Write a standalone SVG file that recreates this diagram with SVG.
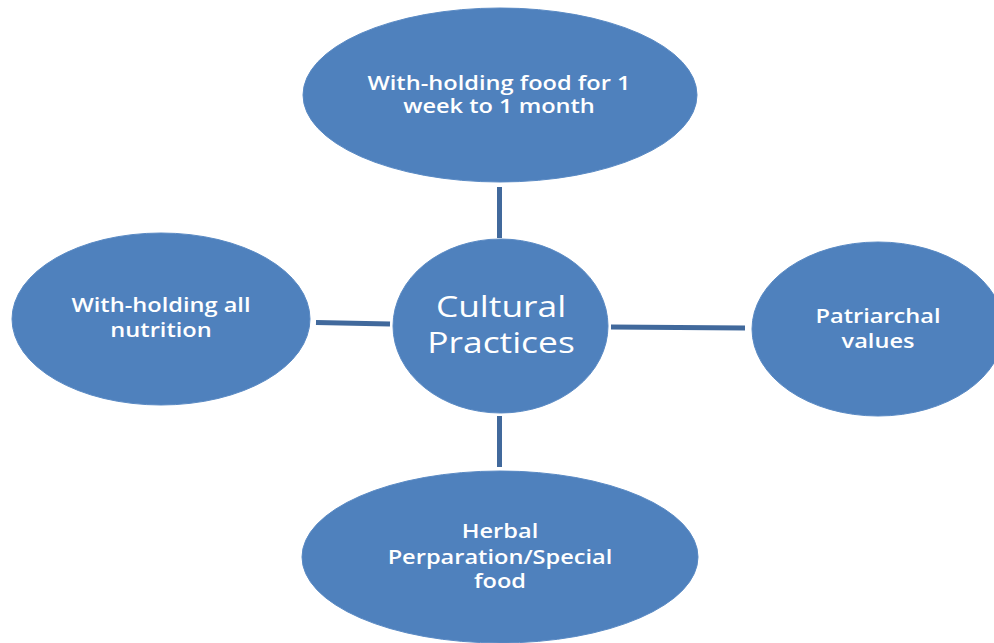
<svg xmlns="http://www.w3.org/2000/svg" width="994" height="643" viewBox="0 0 994 643">
<style>
.node{fill:#4F81BD;stroke:#5A8AC4;stroke-width:1}
.lbl{fill:#FFFFFF;font-family:"Open Sans","Liberation Sans",sans-serif;text-anchor:middle;font-size:20px;font-weight:600}
.big{font-size:29px;font-weight:400}
.conn line{stroke:#41699C;stroke-width:5}
</style>
<rect width="994" height="643" fill="#FFFFFF"/>
<g id="connectors" class="conn">
<line x1="499.5" y1="187" x2="499.5" y2="238"/>
<line x1="499.5" y1="416" x2="499.5" y2="467"/>
<line x1="316" y1="322.5" x2="390" y2="324"/>
<line x1="611" y1="327" x2="745" y2="328"/>
</g>
<g id="center">
<ellipse class="node" cx="500.5" cy="326" rx="107.5" ry="87"/>
<g transform="translate(501 0) scale(1.22 1)">
<text class="lbl big" x="0" y="317">Cultural</text>
<text class="lbl big" x="0" y="353">Practices</text>
</g>
</g>
<g id="top">
<ellipse class="node" cx="500" cy="95" rx="197" ry="87"/>
<g transform="translate(499 0) scale(1.18 1)">
<text class="lbl" x="0" y="90">With-holding food for 1</text>
<text class="lbl" x="0" y="113">week to 1 month</text>
</g>
</g>
<g id="left">
<ellipse class="node" cx="161" cy="319" rx="149" ry="86"/>
<g transform="translate(161 0) scale(1.18 1)">
<text class="lbl" x="0" y="312">With-holding all</text>
<text class="lbl" x="0" y="337">nutrition</text>
</g>
</g>
<g id="right">
<ellipse class="node" cx="878" cy="329" rx="126" ry="87"/>
<g transform="translate(878 0) scale(1.18 1)">
<text class="lbl" x="0" y="323">Patriarchal</text>
<text class="lbl" x="0" y="348">values</text>
</g>
</g>
<g id="bottom">
<ellipse class="node" cx="500" cy="557" rx="198" ry="86"/>
<g transform="translate(500 0) scale(1.18 1)">
<text class="lbl" x="0" y="538">Herbal</text>
<text class="lbl" x="0" y="564">Perparation/Special</text>
<text class="lbl" x="0" y="588">food</text>
</g>
</g>
</svg>
